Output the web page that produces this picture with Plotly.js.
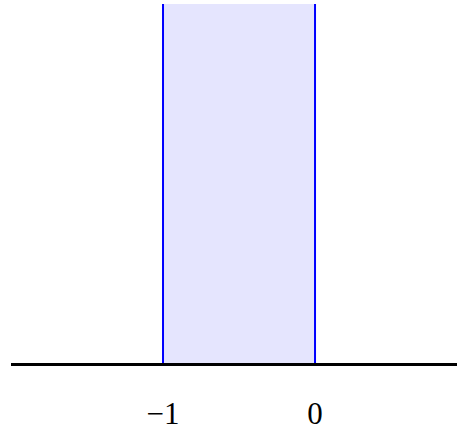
<!DOCTYPE html>
<html><head><meta charset="utf-8">
<script src="https://cdn.plot.ly/plotly-3.0.1.min.js"></script>
<style>html,body{margin:0;padding:0;background:#fff}</style>
</head><body>
<div id="chart" style="width:457px;height:432px"></div>
<script>
const bandX = [-1, -1, 0, 0];
const bandY = [0, 1, 1, 0];
const leftEdge = -1;
const rightEdge = 0;
const tickVals = [-1, 0];
const tickText = ['\u22121', '0'];

const traces = [
  {x: bandX, y: bandY, type: 'scatter', mode: 'none', fill: 'toself',
   fillcolor: '#e5e5fe', hoverinfo: 'skip', showlegend: false},
  {x: [leftEdge, leftEdge], y: [0, 1], type: 'scatter', mode: 'lines',
   line: {color: '#0000ff', width: 2}, showlegend: false},
  {x: [rightEdge, rightEdge], y: [0, 1], type: 'scatter', mode: 'lines',
   line: {color: '#0000ff', width: 2}, showlegend: false}
];

const layout = {
  width: 457, height: 432,
  margin: {l: 11, r: 0, t: 4, b: 69},
  paper_bgcolor: '#fff', plot_bgcolor: '#fff',
  showlegend: false,
  xaxis: {range: [-2, 0.934], showgrid: false, zeroline: false,
    showline: true, linecolor: '#000', linewidth: 3,
    tickvals: tickVals, ticktext: tickText, ticks: '',
    ticklabelstandoff: 21,
    tickfont: {family: 'Liberation Serif', size: 31, color: '#000'}},
  yaxis: {range: [0, 1], visible: false, showgrid: false, zeroline: false}
};

Plotly.newPlot('chart', traces, layout, {staticPlot: true, displayModeBar: false});
</script>
</body></html>
